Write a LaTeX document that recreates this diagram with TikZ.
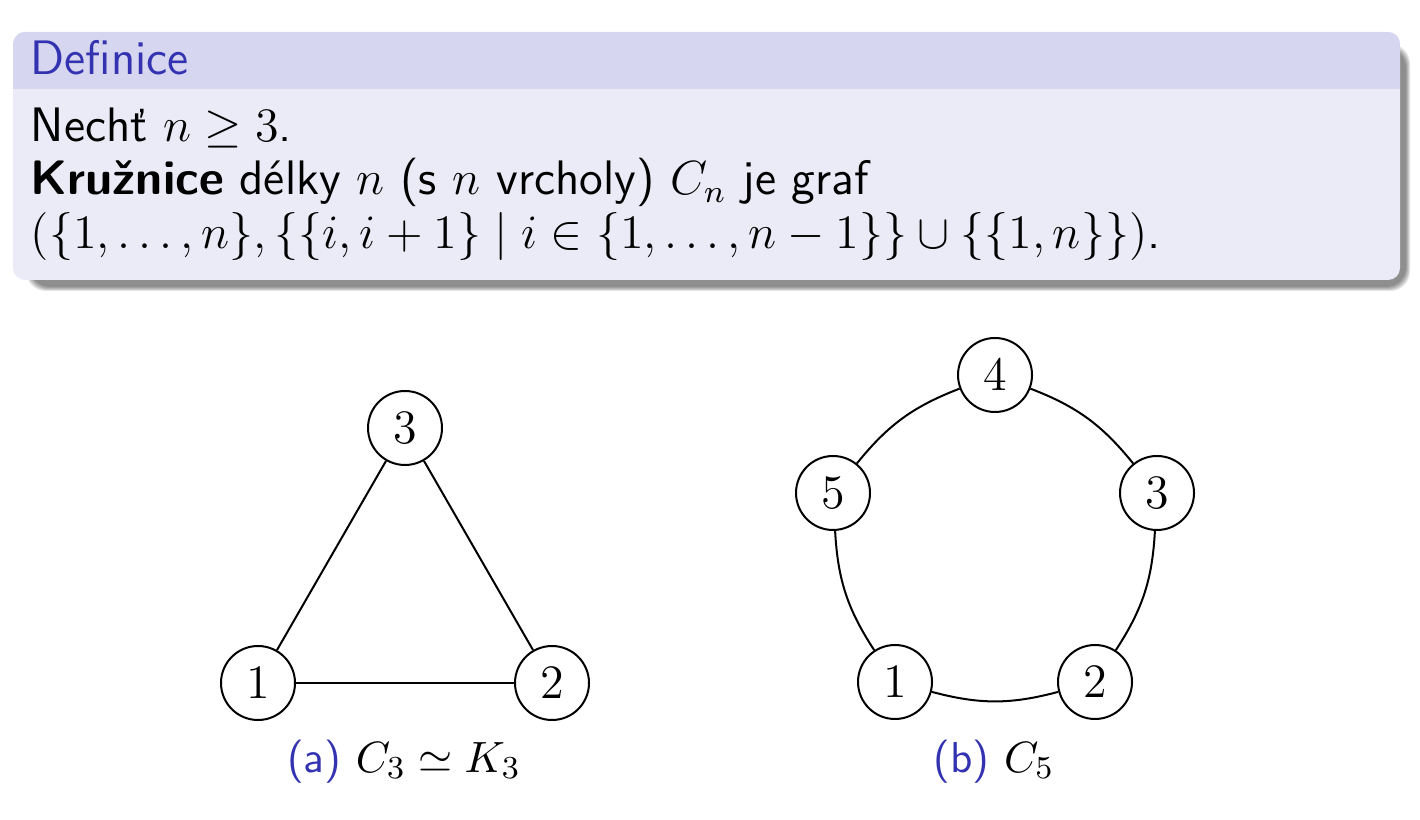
\documentclass[tikz,border=0pt]{standalone}
\usepackage{amssymb}
\usepackage{amsmath}
\usepackage{tikz}
\usetikzlibrary{positioning}
\definecolor{structure}{rgb}{0.2,0.2,0.7}
\colorlet{titlebg}{structure!20!white}
\colorlet{bodybg}{titlebg!50!white}
\tikzstyle{vertex} = [circle, draw = black, line width=0.5pt, fill = white, minimum size=18.5pt, inner sep=0pt, font=\fontsize{12.1}{14}\selectfont]
\tikzstyle{line} = [anchor=base west, inner sep=0pt, font=\sffamily\fontsize{12.1}{14}\selectfont]
\tikzstyle{caption} = [anchor=base, inner sep=0pt, font=\sffamily\fontsize{10.8}{13}\selectfont]
\tikzstyle{edge} = [line width=0.5pt]

\begin{document}
\begin{tikzpicture}[x=0.25pt,y=0.25pt]
	\useasboundingbox (0,0) rectangle (1420,-820);
	%blok s definici
	\foreach \d in {0,1,...,4}
		\fill[black,opacity=0.11,rounded corners=5pt] (30-\d,-48+\d) rectangle (1406+\d,-287-\d);
	\fill[bodybg,rounded corners=3pt] (13,-32) rectangle (1400,-280);
	\begin{scope}
		\clip[rounded corners=3pt] (13,-32) rectangle (1400,-280);
		\fill[titlebg] (13,-32) rectangle (1400,-89);
	\end{scope}
	\node (title) [line,text=structure] at (30,-75) {Definice};
	\node (l1) [line] at (30,-142) {Nechť $n\geq 3$.};
	\node (l2) [line] at (30,-195) {\textbf{Kružnice} délky $n$ (s $n$ vrcholy) $C_n$ je graf};
	\node (l3) [line] at (30,-249) {$(\{1,\ldots,n\},\{\{i,i+1\}\mid i\in\{1,\ldots,n-1\}\}\cup\{\{1,n\}\})$.};
	%graf C3
	\node (a3) [vertex] at (405,-428) {$3$};
	\node (a1) [vertex] at (258,-683) {$1$};
	\node (a2) [vertex] at (552,-683) {$2$};
	\draw [edge](a1) -- (a2);
	\draw [edge](a2) -- (a3);
	\draw [edge](a3) -- (a1);
	\node (capa) [caption] at (404,-772) {\textcolor{structure}{(a)} $C_3\simeq K_3$};
	%graf C5
	\node (b4) [vertex] at (995,-375) {$4$};
	\node (b3) [vertex] at (1157,-493) {$3$};
	\node (b5) [vertex] at (833,-493) {$5$};
	\node (b1) [vertex] at (895,-682) {$1$};
	\node (b2) [vertex] at (1095,-682) {$2$};
	\draw [edge](b1) to[bend right=15] (b2);
	\draw [edge](b2) to[bend right=15] (b3);
	\draw [edge](b3) to[bend right=15] (b4);
	\draw [edge](b4) to[bend right=15] (b5);
	\draw [edge](b5) to[bend right=15] (b1);
	\node (capb) [caption] at (994,-772) {\textcolor{structure}{(b)} $C_5$};
\end{tikzpicture}
\end{document}
